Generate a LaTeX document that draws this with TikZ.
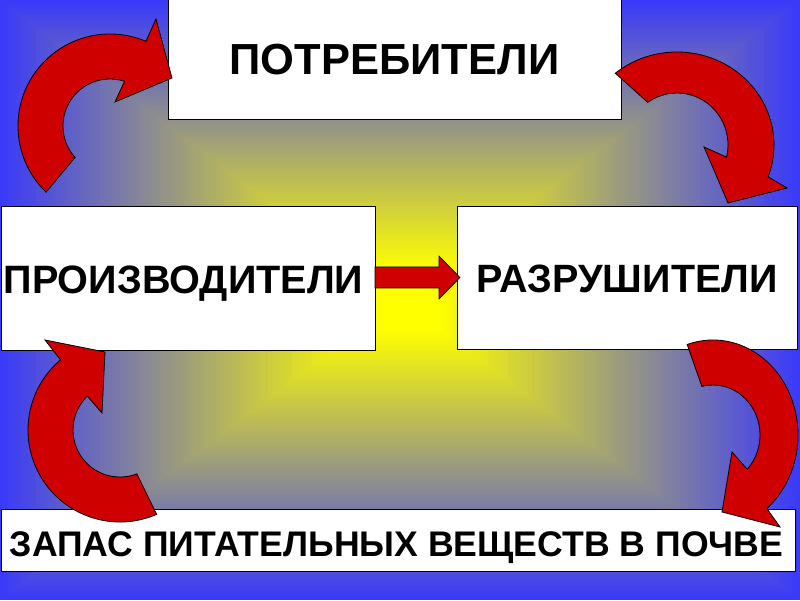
\documentclass[tikz,border=0pt]{standalone}
\usepackage{fontspec}
\setmainfont{Liberation Sans}
\definecolor{bgblue}{RGB}{58,58,248}
\definecolor{bgyellow}{RGB}{255,255,0}
\definecolor{arrowred}{RGB}{206,0,0}
\begin{document}
\begin{tikzpicture}[x=1pt,y=1pt,
  box/.style={draw=black, line width=1pt, fill=white, anchor=south west,
    inner sep=0pt, outer sep=0pt, text depth=0pt},
  curved/.style={fill=arrowred, draw=black, line width=0.8pt, line join=miter},
  blockarrow/.style={fill=arrowred, draw=black, line width=0.6pt, line join=miter}]
\useasboundingbox (0,0) rectangle (800,600);
% background rectangular gradient
\foreach \i in {0,...,99} {
  \pgfmathsetmacro\k{\i/100}
  \pgfmathsetmacro\f{min(100,100*\k/0.9)}
  \pgfmathsetmacro\hw{400*(1-\k)}
  \pgfmathsetmacro\hh{300*(1-\k)}
  \fill[bgyellow!\f!bgblue] (400-\hw,300-\hh) rectangle (400+\hw,300+\hh);
}
% boxes
\node[box, minimum width=453pt, minimum height=121pt,
  font=\fontsize{43.5}{50}\selectfont\bfseries, text height=31pt] (cons) at (168,480) {ПОТРЕБИТЕЛИ};
\node[box, minimum width=373.5pt, minimum height=144pt,
  font=\fontsize{39.6}{45}\selectfont\bfseries, text height=28.5pt] (prod) at (1.5,249) {\kern-9.5pt ПРОИЗВОДИТЕЛИ};
\node[box, minimum width=340pt, minimum height=143pt,
  font=\fontsize{39.5}{45}\selectfont\bfseries, text height=28.5pt] (dest) at (457,250) {РАЗРУШИТЕЛИ};
\node[box, minimum width=794pt, minimum height=62pt,
  font=\fontsize{35.6}{40}\selectfont\bfseries, text height=32.5pt] (soil) at (1,29) {\kern-3pt ЗАПАС ПИТАТЕЛЬНЫХ ВЕЩЕСТВ В ПОЧВЕ};
% straight block arrow producers -> decomposers
\draw[blockarrow] (prod.east) ++(0,12) -- ++(64,0) -- ++(0,11) -- ++(21,-21.5)
  -- ++(-21,-21.5) -- ++(0,11) -- ++(-64,0) -- cycle;
% top-left curved arrow (producers -> consumers)
\draw[curved] ([shift={(226:92)}]110,474) arc[start angle=226, end angle=67, radius=92]
  -- (156,581) -- (172,522) -- (115,498)
  -- ([shift={(72:47)}]110,474) arc[start angle=72, end angle=222, radius=47] -- cycle;
% top-right curved arrow (consumers -> decomposers)
\draw[curved] ([shift={(129.5:97 and 93)}]677,455) arc[start angle=129.5, end angle=-20, x radius=97, y radius=93]
  -- (787,412) -- (728,397) -- (704,453)
  -- ([shift={(-13.5:51 and 52)}]677,455) arc[start angle=-13.5, end angle=125, x radius=51, y radius=52] -- cycle;
% bottom-left curved arrow (soil -> producers)
\draw[curved] ([shift={(-66.5:92)}]120,170) arc[start angle=-66.5, end angle=-229.7, radius=92]
  -- (45,260) -- (105,248) -- (102,187)
  -- ([shift={(-226:47)}]120,170) arc[start angle=-226, end angle=-69, radius=47] -- cycle;
% bottom-right curved arrow (decomposers -> soil)
\draw[curved] ([shift={(107.7:85 and 95)}]713,165) arc[start angle=107.7, end angle=-50.7, x radius=85, y radius=95]
  -- (780,73) -- (722,88) -- (732,148)
  -- ([shift={(-43.3:47 and 50)}]713,165) arc[start angle=-43.3, end angle=103.7, x radius=47, y radius=50] -- cycle;
\end{tikzpicture}
\end{document}
